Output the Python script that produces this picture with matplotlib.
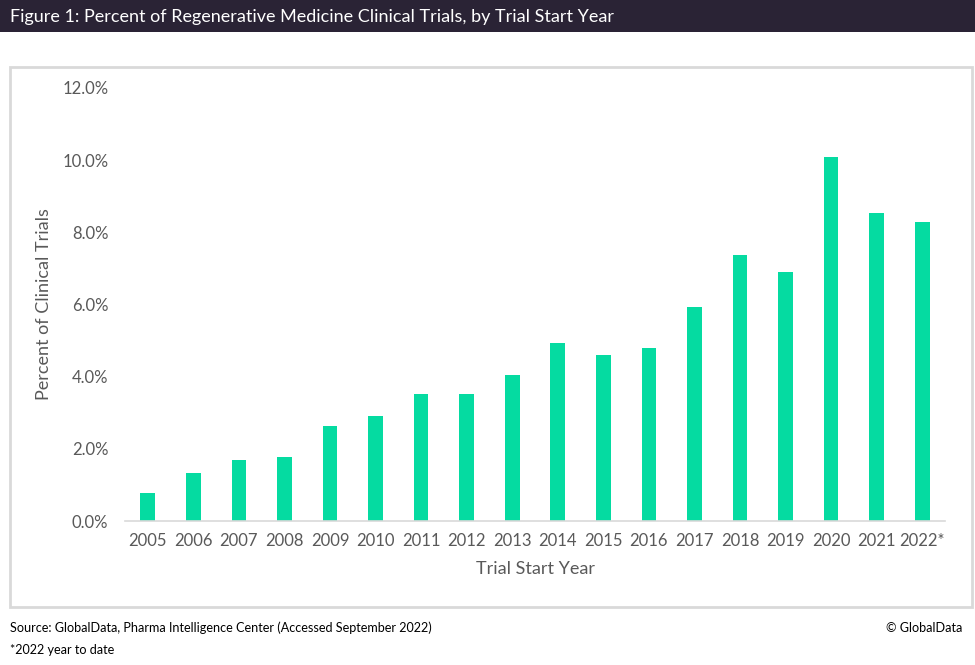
import matplotlib
matplotlib.use("Agg")
import matplotlib.pyplot as plt
from matplotlib.patches import Rectangle
from matplotlib.ticker import FuncFormatter

years = ["2005", "2006", "2007", "2008", "2009", "2010", "2011", "2012", "2013",
         "2014", "2015", "2016", "2017", "2018", "2019", "2020", "2021", "2022*"]
pct = [0.78, 1.33, 1.69, 1.77, 2.63, 2.91, 3.52, 3.52, 4.05,
       4.93, 4.60, 4.79, 5.93, 7.37, 6.90, 10.09, 8.54, 8.29]

W, H = 975, 665
BAR = "#05DBA1"
GREY = "#595959"
FONT = ["Lato", "DejaVu Sans"]

fig = plt.figure(figsize=(W / 100, H / 100), dpi=100)
fig.patch.set_facecolor("white")

# header bar and chart frame
fig.add_artist(Rectangle((0, 1 - 32 / H), 1, 32 / H, transform=fig.transFigure,
                         facecolor="#2A2335", edgecolor="none"))
fig.add_artist(Rectangle((10 / W, 1 - 607 / H), 962 / W, 540 / H, transform=fig.transFigure,
                         facecolor="none", edgecolor="#D9D9D9", lw=2))
fig.text(10 / W, 1 - 17 / H, "Figure 1: Percent of Regenerative Medicine Clinical Trials, by Trial Start Year",
         color="white", fontsize=13, family=FONT, va="center", ha="left")

ax = fig.add_axes([125 / W, 1 - 521 / H, 820 / W, 433 / H])
x = range(len(years))
ax.bar(x, pct, width=0.32, color=BAR)
ax.set_xlim(-0.5, len(years) - 0.5)
ax.set_ylim(0, 12)
ax.set_yticks([0, 2, 4, 6, 8, 10, 12])
ax.yaxis.set_major_formatter(FuncFormatter(lambda v, p: f"{v:.1f}%"))
ax.set_xticks(list(x))
ax.set_xticklabels(years)
for s in ["top", "right", "left"]:
    ax.spines[s].set_visible(False)
ax.spines["bottom"].set_color("#D9D9D9")
ax.spines["bottom"].set_linewidth(1.2)
ax.tick_params(axis="both", length=0, colors=GREY, labelsize=12)
ax.tick_params(axis="y", pad=12)
ax.tick_params(axis="x", pad=9)
for lab in ax.get_xticklabels() + ax.get_yticklabels():
    lab.set_family(FONT)
ax.set_ylabel("Percent of Clinical Trials", fontsize=13, color=GREY, family=FONT, labelpad=7)
ax.set_xlabel("Trial Start Year", fontsize=13, color=GREY, family=FONT, labelpad=8)

fig.text(10 / W, 1 - 628 / H, "Source: GlobalData, Pharma Intelligence Center (Accessed September 2022)",
         fontsize=9.1, family=FONT, color="black", va="center")
fig.text(962 / W, 1 - 628 / H, "\u00a9 GlobalData", fontsize=9.1, family=FONT,
         color="black", va="center", ha="right")
fig.text(10 / W, 1 - 650 / H, "*2022 year to date", fontsize=9.1, family=FONT,
         color="black", va="center")

fig.savefig("out.png", dpi=100)
